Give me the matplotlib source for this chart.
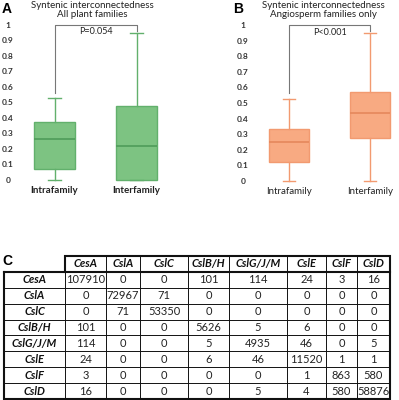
import matplotlib
matplotlib.use('Agg')
import matplotlib.pyplot as plt
import numpy as np

# ---- data ----
groups = ['Intrafamily', 'Interfamily']
# (whislo, q1, med, q3, whishi)
box_a = [(0.0, 0.07, 0.265, 0.375, 0.527),
         (0.0, 0.0, 0.22, 0.48, 0.946)]
box_b = [(0.0, 0.122, 0.25, 0.333, 0.527),
         (0.0, 0.276, 0.435, 0.57, 0.947)]
p_a = 'P=0.054'
p_b = 'P<0.001'
y_ticks = [0, 0.1, 0.2, 0.3, 0.4, 0.5, 0.6, 0.7, 0.8, 0.9, 1]
y_tick_labels = ['0', '0.1', '0.2', '0.3', '0.4', '0.5', '0.6', '0.7', '0.8', '0.9', '1']

genes = ['CesA', 'CslA', 'CslC', 'CslB/H', 'CslG/J/M', 'CslE', 'CslF', 'CslD']
counts = [
    [107910, 0, 0, 101, 114, 24, 3, 16],
    [0, 72967, 71, 0, 0, 0, 0, 0],
    [0, 71, 53350, 0, 0, 0, 0, 0],
    [101, 0, 0, 5626, 5, 6, 0, 0],
    [114, 0, 0, 5, 4935, 46, 0, 5],
    [24, 0, 0, 6, 46, 11520, 1, 1],
    [3, 0, 0, 0, 0, 1, 863, 580],
    [16, 0, 0, 0, 5, 4, 580, 58876],
]

W, H = 399, 400
fig = plt.figure(figsize=(W / 100, H / 100), dpi=100)
fig.patch.set_facecolor('white')
FONT = ['Lato', 'DejaVu Sans']


def px_axes(l, t, r, b):
    return fig.add_axes([l / W, 1 - b / H, (r - l) / W, (b - t) / H])


def box_panel(x1, x2, y0, y1, stats, fill, edge, med_col, pval, lab_weight):
    # x1, x2: pixel centres of the two boxes; y0/y1: pixel rows of values 0 and 1
    xs = x2 - x1
    ys = y0 - y1
    xlim = (0.55, 2.45)
    ylim = (-0.03, 1.06)
    ax = px_axes(x1 + (xlim[0] - 1) * xs, y0 - ylim[1] * ys,
                 x1 + (xlim[1] - 1) * xs, y0 - ylim[0] * ys)
    bstats = [dict(whislo=s[0], q1=s[1], med=s[2], q3=s[3], whishi=s[4],
                   fliers=[], label=g) for s, g in zip(stats, groups)]
    ax.bxp(bstats, positions=[1, 2], widths=0.5, patch_artist=True,
           showfliers=False, capwidths=0.15,
           boxprops=dict(facecolor=fill, edgecolor=edge, linewidth=1.0),
           medianprops=dict(color=med_col, linewidth=1.2),
           whiskerprops=dict(color=edge, linewidth=1.0),
           capprops=dict(color=edge, linewidth=1.0))
    for b in ax.patches + ax.lines:
        b.set_clip_on(False)
    ax.set_xlim(*xlim)
    ax.set_ylim(*ylim)
    ax.set_yticks(y_ticks)
    ax.set_yticklabels(y_tick_labels, fontsize=6, fontweight='bold',
                       color='#333333', family=FONT)
    for t in ax.get_yticklabels():
        t.set_horizontalalignment('center')
    ax.tick_params(axis='y', length=0, pad=7)
    ax.set_xticks([1, 2])
    ax.set_xticklabels(groups, fontsize=7, fontweight=lab_weight,
                       color='#222222', family=FONT)
    ax.tick_params(axis='x', length=0, pad=1)
    for s in ax.spines.values():
        s.set_visible(False)
    ax.patch.set_alpha(0)
    # significance bracket
    top = 1.0
    ax.plot([1, 1, 2, 2], [stats[0][4] + 0.035, top, top, stats[1][4] + 0.015],
            color='#777777', linewidth=0.8, clip_on=False, zorder=1)
    ax.text(1.5, top - 0.045, pval, ha='center', va='center', fontsize=6.5,
            color='#222222', family=FONT)
    return ax


box_panel(54.5, 136.5, 180, 25, box_a, '#7DC382', '#62B06C', '#4F9C5A',
          p_a, 'bold')
box_panel(289, 370, 181, 25, box_b, '#F8AA82', '#F29A70', '#E5885C',
          p_b, 'normal')

fig.text(92 / W, 1 - 10 / H, 'Syntenic interconnectedness\nAll plant families',
         ha='center', va='center', fontsize=7, color='#222222',
         linespacing=1.1, family=FONT)
fig.text(323 / W, 1 - 10 / H, 'Syntenic interconnectedness\nAngiosperm families only',
         ha='center', va='center', fontsize=7, color='#222222',
         linespacing=1.1, family=FONT)
fig.text(2 / W, 1 - 9 / H, 'A', ha='left', va='center', fontsize=10,
         fontweight='bold', family=['Liberation Sans'])
fig.text(233 / W, 1 - 9 / H, 'B', ha='left', va='center', fontsize=10,
         fontweight='bold', family=['Liberation Sans'])
fig.text(2 / W, 1 - 261 / H, 'C', ha='left', va='center', fontsize=10,
         fontweight='bold', family=['Liberation Sans'])

# ---- table ----
col_edges = [4, 65, 106, 140, 188, 229, 287, 326, 357, 390]
top_y, bot_y = 256, 399
n_rows = len(genes) + 1
row_edges = np.linspace(top_y, bot_y, n_rows + 1)

axt = px_axes(0, 0, W, H)
axt.set_xlim(0, W)
axt.set_ylim(H, 0)
axt.axis('off')

thin, thick, lc = 0.7, 1.5, '#111111'
hdr_b = row_edges[1]
# inner vertical lines
for x in col_edges[1:-1]:
    y_start = top_y if x > col_edges[1] else hdr_b
    axt.plot([x, x], [y_start, bot_y], color=lc, lw=thin)
# inner horizontal lines
for y in row_edges[2:-1]:
    axt.plot([col_edges[0], col_edges[-1]], [y, y], color=lc, lw=thin)
# thick outlines: header row and body
axt.plot([col_edges[1], col_edges[1], col_edges[-1], col_edges[-1]],
         [hdr_b, top_y, top_y, hdr_b], color=lc, lw=thick,
         solid_joinstyle='miter')
axt.plot([col_edges[0], col_edges[-1], col_edges[-1], col_edges[0], col_edges[0]],
         [hdr_b, hdr_b, bot_y, bot_y, hdr_b], color=lc, lw=thick,
         solid_joinstyle='miter')

TFONT = ['Lato', 'DejaVu Sans']
cx = [(a + b) / 2 for a, b in zip(col_edges[:-1], col_edges[1:])]
cy = [(a + b) / 2 for a, b in zip(row_edges[:-1], row_edges[1:])]
for j, g in enumerate(genes):
    axt.text(cx[j + 1], cy[0], g, ha='center', va='center', fontsize=8,
             fontweight='bold', fontstyle='italic', family=TFONT, color='#111111')
    axt.text(cx[0], cy[j + 1], g, ha='center', va='center', fontsize=8,
             fontweight='bold', fontstyle='italic', family=TFONT, color='#111111')
for i, row in enumerate(counts):
    for j, v in enumerate(row):
        axt.text(cx[j + 1], cy[i + 1], str(v), ha='center', va='center',
                 fontsize=8, family=TFONT, color='#222222')

fig.savefig('out.png', dpi=100, facecolor='white')
